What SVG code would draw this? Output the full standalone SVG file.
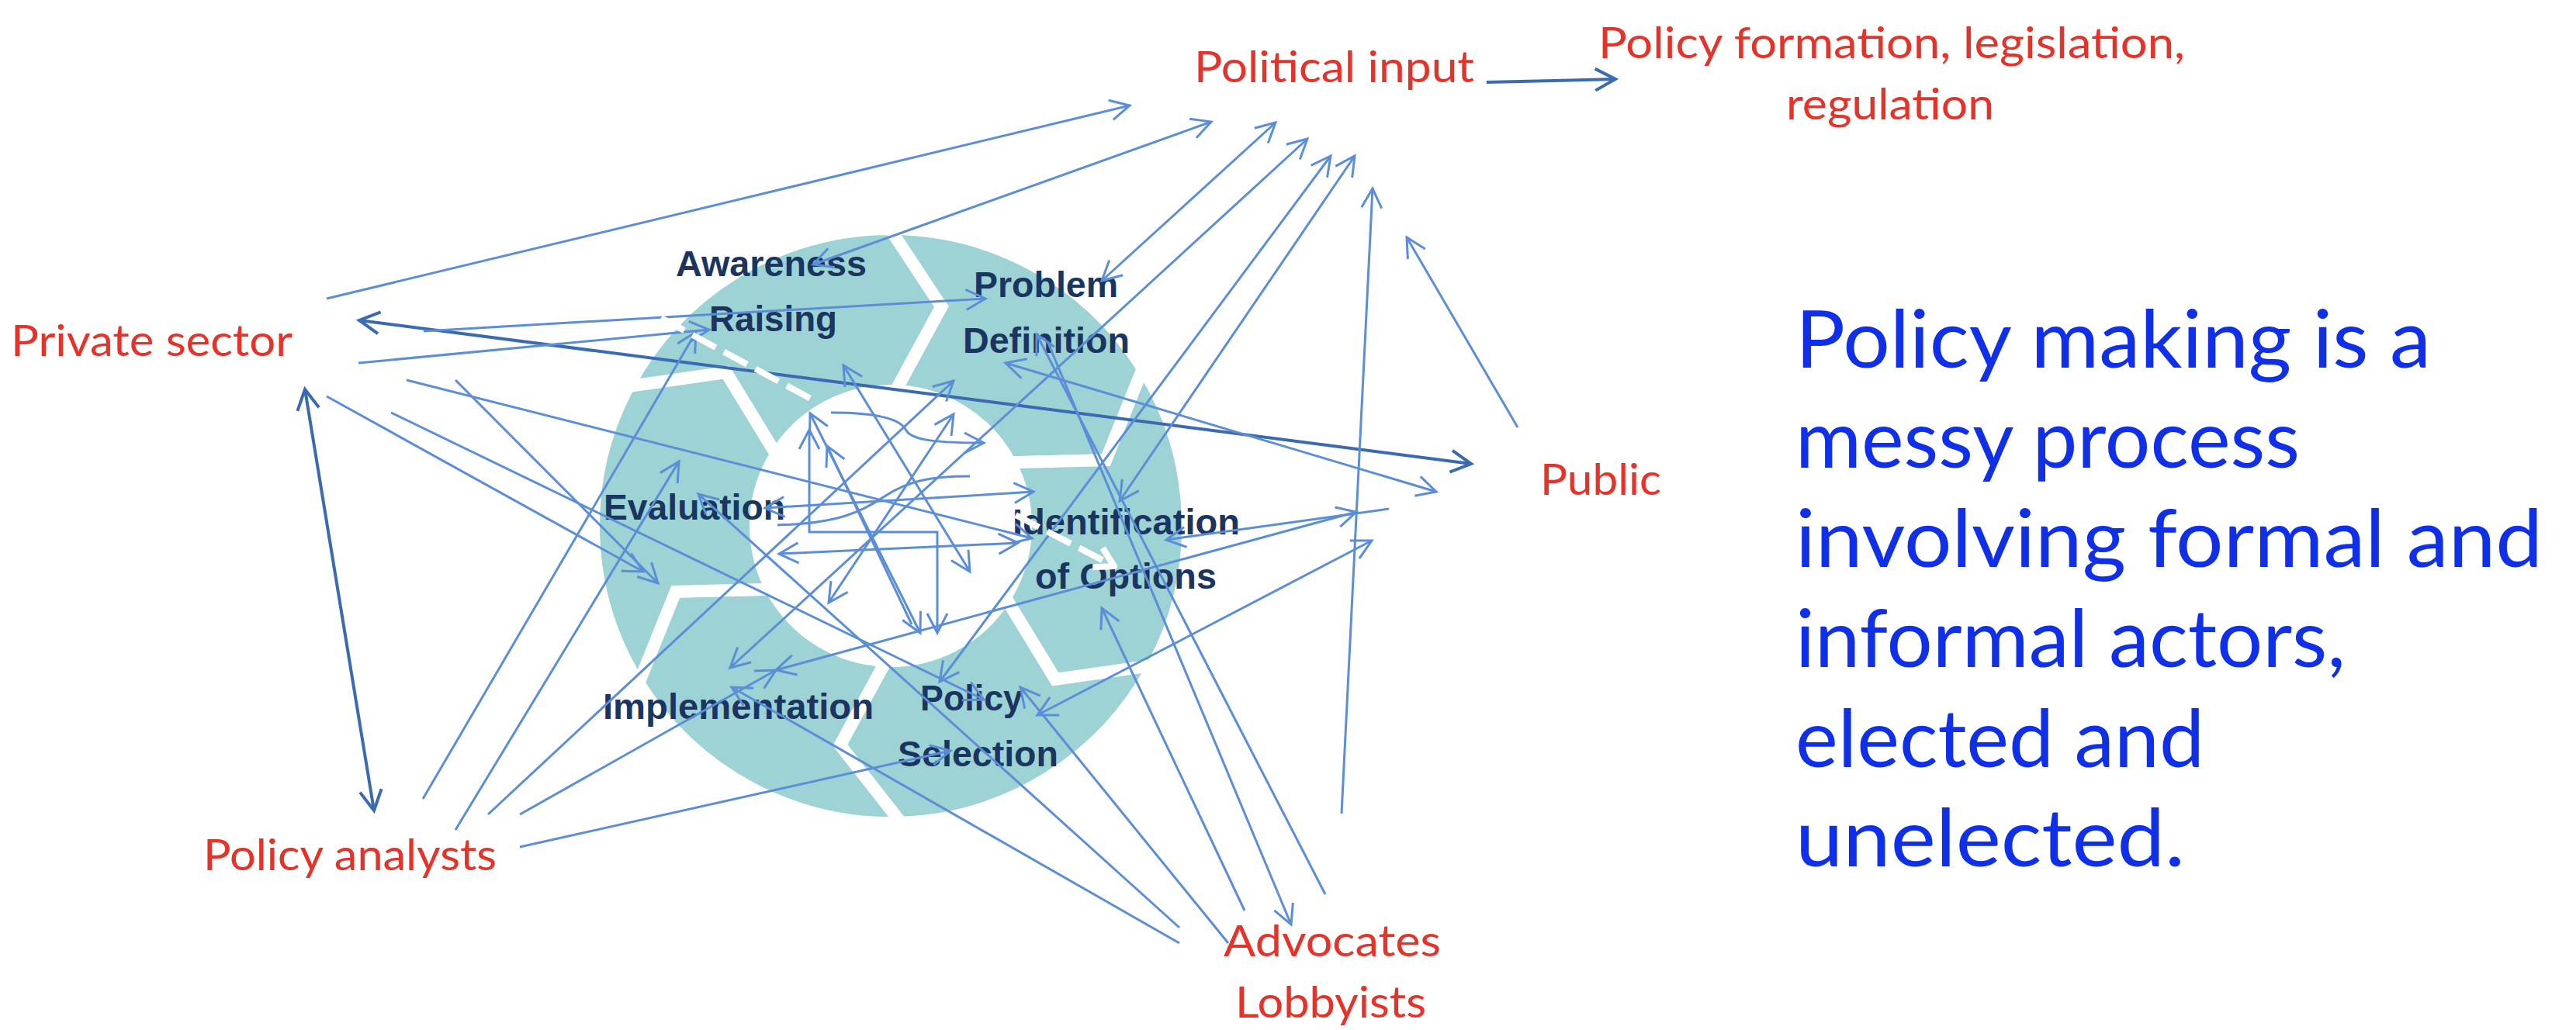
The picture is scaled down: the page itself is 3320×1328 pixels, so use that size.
<svg xmlns="http://www.w3.org/2000/svg" width="3320" height="1328" viewBox="0 0 3320 1328">
<defs>
<style>
.sg{fill:#9dd3d5;stroke:#ffffff;stroke-width:16;stroke-miterlimit:6}
.seg{font-family:"Liberation Sans",Arial,sans-serif;font-weight:bold;font-size:46px;fill:#1a355f}
.act{font-family:Lato,"Liberation Sans",sans-serif;font-size:57px;fill:#e6332a}
.big{font-family:Lato,"Liberation Sans",sans-serif;font-size:102px;fill:#0f2fe8}
.c{fill:none;stroke:#5b8ed6;stroke-width:3}
.cd{fill:none;stroke:#3a6ab0;stroke-width:4}
.e{marker-end:url(#a)}
.s{marker-start:url(#a)}
.de{marker-end:url(#ad)}
.ds{marker-start:url(#ad)}
.w{fill:none;stroke:#ffffff;stroke-width:8;stroke-dasharray:34 12}
</style>
<marker id="a" viewBox="-32 -18 36 36" refX="0" refY="0" markerWidth="36" markerHeight="36" markerUnits="userSpaceOnUse" orient="auto-start-reverse">
<path d="M-25,-13 L0,0 L-25,13" fill="none" stroke="#5b8ed6" stroke-width="3"/>
</marker>
<marker id="ad" viewBox="-32 -18 36 36" refX="0" refY="0" markerWidth="36" markerHeight="36" markerUnits="userSpaceOnUse" orient="auto-start-reverse">
<path d="M-26,-14 L0,0 L-26,14" fill="none" stroke="#3a6ab0" stroke-width="4"/>
</marker>
<marker id="aw" viewBox="-32 -18 36 36" refX="0" refY="0" markerWidth="36" markerHeight="36" markerUnits="userSpaceOnUse" orient="auto">
<path d="M-24,-14 L0,0 L-24,14" fill="none" stroke="#ffffff" stroke-width="8"/>
</marker>
</defs>
<rect width="3320" height="1328" fill="#ffffff"/>

<g id="seg-problem-definition">
<path class="sg" d="M1134.6,295.2 A383,383 0 0 1 1472.8,475.0 L1489.7,464.5 L1425.3,593.2 L1301.6,596.3 A174,174 0 0 0 1154.1,504.1 L1213.3,395.4 Z"/>
<text class="seg" x="1255" y="383" textLength="186" lengthAdjust="spacingAndGlyphs">Problem</text>
<text class="seg" x="1241" y="455" textLength="215" lengthAdjust="spacingAndGlyphs">Definition</text>
</g>
<g id="seg-identification-of-options">
<path class="sg" d="M1472.8,475.0 A383,383 0 0 1 1486.2,857.8 L1503.8,867.2 L1360.1,875.8 L1295.6,770.2 A174,174 0 0 0 1301.6,596.3 L1425.3,593.2 Z"/>
<text class="seg" x="1305" y="689" textLength="293" lengthAdjust="spacingAndGlyphs">Identification</text>
<text class="seg" x="1334" y="759" textLength="234" lengthAdjust="spacingAndGlyphs">of Options</text>
</g>
<g id="seg-policy-selection">
<path class="sg" d="M1486.2,857.8 A383,383 0 0 1 1161.4,1060.8 L1162.1,1080.8 L1082.7,960.6 L1141.9,851.9 A174,174 0 0 0 1295.6,770.2 L1360.1,875.8 Z"/>
<text class="seg" x="1186" y="916" textLength="132" lengthAdjust="spacingAndGlyphs">Policy</text>
<text class="seg" x="1157" y="988" textLength="207" lengthAdjust="spacingAndGlyphs">Selection</text>
</g>
<g id="seg-implementation">
<path class="sg" d="M1161.4,1060.8 A383,383 0 0 1 823.2,881.0 L806.3,891.5 L870.7,762.8 L994.4,759.7 A174,174 0 0 0 1141.9,851.9 L1082.7,960.6 Z"/>
<text class="seg" x="777" y="927" textLength="349" lengthAdjust="spacingAndGlyphs">Implementation</text>
</g>
<g id="seg-evaluation">
<path class="sg" d="M823.2,881.0 A383,383 0 0 1 809.8,498.2 L792.2,488.8 L935.9,480.2 L1000.4,585.8 A174,174 0 0 0 994.4,759.7 L870.7,762.8 Z"/>
<text class="seg" x="778" y="670" textLength="234" lengthAdjust="spacingAndGlyphs">Evaluation</text>
</g>
<g id="seg-awareness-raising">
<path class="sg" d="M809.8,498.2 A383,383 0 0 1 1134.6,295.2 L1133.9,275.2 L1213.3,395.4 L1154.1,504.1 A174,174 0 0 0 1000.4,585.8 L935.9,480.2 Z"/>
<text class="seg" x="871" y="356" textLength="246" lengthAdjust="spacingAndGlyphs">Awareness</text>
<text class="seg" x="914" y="427" textLength="165" lengthAdjust="spacingAndGlyphs">Raising</text>
</g>

<g id="actor-political-input">
<text class="act" x="1539" y="106" textLength="361" lengthAdjust="spacingAndGlyphs">Political input</text>
</g>
<g id="actor-policy-formation">
<text class="act" x="2438" y="75" text-anchor="middle" textLength="756" lengthAdjust="spacingAndGlyphs">Policy formation, legislation,</text>
<text class="act" x="2436" y="154" text-anchor="middle" textLength="268" lengthAdjust="spacingAndGlyphs">regulation</text>
</g>
<g id="actor-private-sector">
<text class="act" x="14" y="459" textLength="363" lengthAdjust="spacingAndGlyphs">Private sector</text>
</g>
<g id="actor-policy-analysts">
<text class="act" x="262" y="1122" textLength="378" lengthAdjust="spacingAndGlyphs">Policy analysts</text>
</g>
<g id="actor-public">
<text class="act" x="1985" y="638" textLength="156" lengthAdjust="spacingAndGlyphs">Public</text>
</g>
<g id="actor-advocates-lobbyists">
<text class="act" x="1717" y="1233" text-anchor="middle" textLength="280" lengthAdjust="spacingAndGlyphs">Advocates</text>
<text class="act" x="1715" y="1312" text-anchor="middle" textLength="246" lengthAdjust="spacingAndGlyphs">Lobbyists</text>
</g>
<g id="statement">
<text class="big" x="2314" y="474" textLength="819" lengthAdjust="spacingAndGlyphs">Policy making is a</text>
<text class="big" x="2314" y="603" textLength="650" lengthAdjust="spacingAndGlyphs">messy process</text>
<text class="big" x="2314" y="731" textLength="963" lengthAdjust="spacingAndGlyphs">involving formal and</text>
<text class="big" x="2314" y="860" textLength="709" lengthAdjust="spacingAndGlyphs">informal actors,</text>
<text class="big" x="2314" y="989" textLength="527" lengthAdjust="spacingAndGlyphs">elected and</text>
<text class="big" x="2314" y="1117" textLength="502" lengthAdjust="spacingAndGlyphs">unelected.</text>
</g>

<g id="connectors">
<line class="cd de" x1="1916" y1="106" x2="2082" y2="102"/>
<!-- private sector -->
<line class="c e" x1="421" y1="385" x2="1456" y2="136"/>
<line class="cd de ds" x1="463" y1="413" x2="1896" y2="598"/>
<line class="c e" x1="546" y1="427" x2="1270" y2="385"/>
<line class="c e" x1="462" y1="468" x2="914" y2="425"/>
<line class="c e" x1="524" y1="490" x2="1330" y2="694"/>
<line class="c e" x1="587" y1="490" x2="848" y2="752"/>
<line class="c e" x1="421" y1="511" x2="829" y2="737"/>
<line class="c e" x1="504" y1="532" x2="1268" y2="902"/>
<line class="cd de ds" x1="393" y1="502" x2="482" y2="1045"/>
<!-- policy analysts -->
<line class="c e" x1="545" y1="1030" x2="897" y2="428"/>
<line class="c e" x1="587" y1="1070" x2="875" y2="595"/>
<line class="c e" x1="629" y1="1050" x2="1229" y2="491"/>
<line class="c e" x1="670" y1="1050" x2="1000" y2="864"/>
<line class="c e" x1="670" y1="1092" x2="1225" y2="968"/>
<!-- political input fan -->
<line class="c e s" x1="1048" y1="341" x2="1561" y2="157"/>
<line class="c e s" x1="1420" y1="362" x2="1644" y2="158"/>
<line class="c e s" x1="941" y1="861" x2="1685" y2="179"/>
<line class="c e s" x1="1211" y1="879" x2="1715" y2="201"/>
<line class="c e s" x1="1443" y1="646" x2="1746" y2="201"/>
<line class="c e" x1="1729" y1="1049" x2="1769" y2="243"/>
<line class="c e" x1="1956" y1="551" x2="1813" y2="306"/>
<!-- public side -->
<line class="c e s" x1="1296" y1="468" x2="1851" y2="634"/>
<line class="c e" x1="1790" y1="656" x2="1503" y2="696"/>
<line class="c e s" x1="1000" y1="864" x2="1748" y2="660"/>
<line class="c e s" x1="1337" y1="922" x2="1768" y2="697"/>
<!-- advocates -->
<line class="c e" x1="1520" y1="1196" x2="900" y2="637"/>
<line class="c e" x1="1520" y1="1216" x2="943" y2="886"/>
<line class="c e" x1="1583" y1="1216" x2="1315" y2="886"/>
<line class="c e" x1="1604" y1="1174" x2="1420" y2="784"/>
<line class="c e" x1="1350" y1="440" x2="1664" y2="1192"/>
<line class="c e" x1="1708" y1="1153" x2="1336" y2="431"/>
<!-- centre -->
<line class="c e s" x1="1087" y1="471" x2="1250" y2="737"/>
<line class="c e s" x1="1044" y1="533" x2="1186" y2="816"/>
<polyline class="c e s" points="1043,554 1043,686 1208,686 1208,816"/>
<line class="c e s" x1="1068" y1="777" x2="1229" y2="534"/>
<line class="c e s" x1="1004" y1="714" x2="1312" y2="700"/>
<line class="c e s" x1="986" y1="655" x2="1332" y2="634"/>
<line class="c e" x1="1175" y1="805" x2="1066" y2="575"/>
<path class="c" d="M1002,677 C1080,675 1110,660 1140,640 C1170,620 1200,614 1250,614"/>
<path class="c e" d="M1071,532 C1120,532 1160,538 1168,555 C1175,568 1210,571 1268,571"/>
<!-- white dashed -->
<line class="w" x1="852" y1="410" x2="1045" y2="514"/>
<line class="w" x1="1309" y1="664" x2="1436" y2="730" style="marker-end:url(#aw)"/>
</g>
</svg>
